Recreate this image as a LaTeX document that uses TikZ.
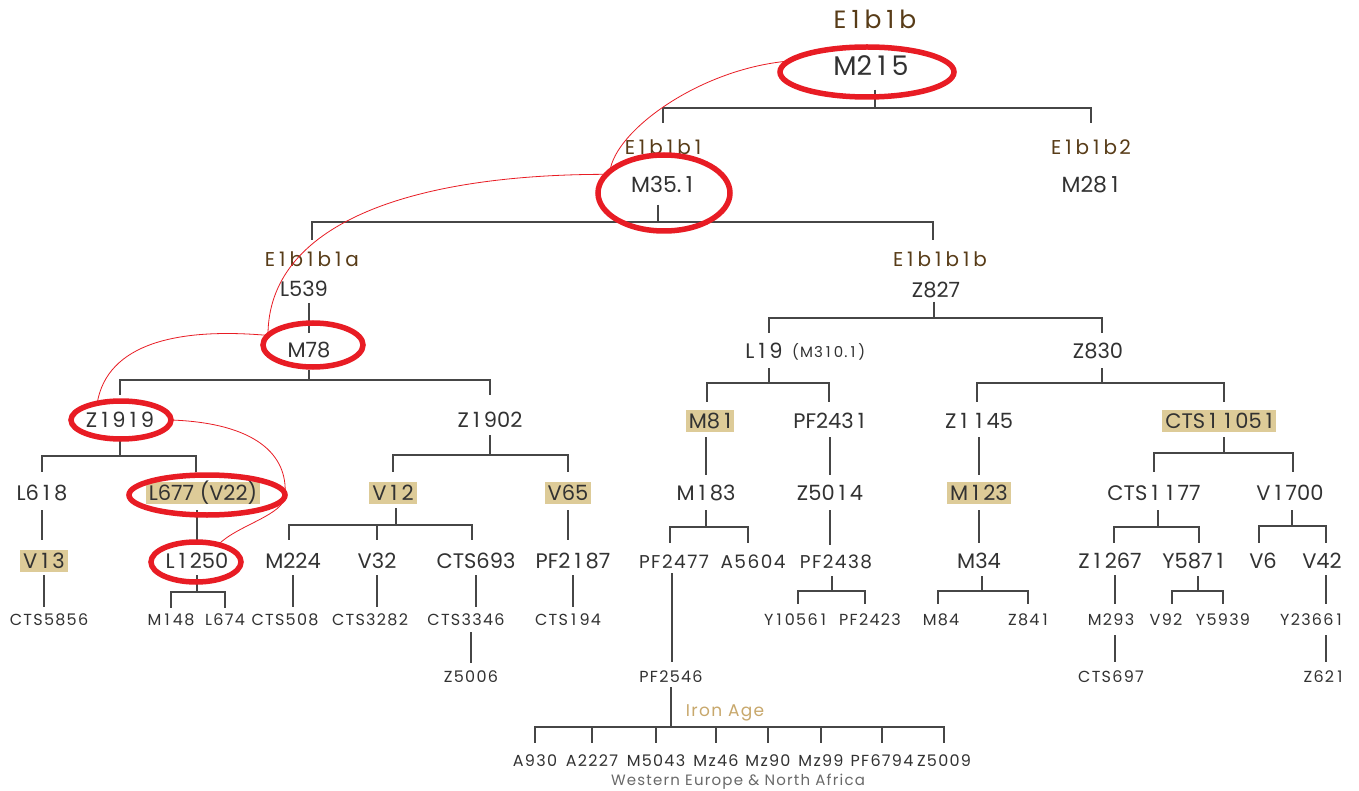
\documentclass[tikz,border=0pt]{standalone}
\usepackage{fontspec}
\setmainfont{Poppins}
\newfontfamily\labfont{Poppins}[LetterSpace=12]
\newfontfamily\smfont{Poppins}[LetterSpace=8]
\usetikzlibrary{shapes.geometric}
% the digit one is set wider, as in the reference's typeface
\XeTeXinterchartokenstate=1
\newXeTeXintercharclass\oneclass
\XeTeXcharclass`\1=\oneclass
\XeTeXinterchartoks 0 \oneclass = {\kern.2em}
\XeTeXinterchartoks \oneclass 0 = {\kern.2em}
\XeTeXinterchartoks \oneclass \oneclass = {\kern.4em}
\definecolor{txt}{RGB}{50,50,50}
\definecolor{edgec}{RGB}{70,70,70}
\definecolor{brownlab}{RGB}{88,60,24}
\definecolor{tanhl}{RGB}{221,203,152}
\definecolor{irona}{RGB}{200,168,108}
\definecolor{ringred}{RGB}{232,28,36}
\definecolor{grayt}{RGB}{105,105,105}
\begin{document}
\begin{tikzpicture}[x=1pt,y=-1pt,
  every node/.style={inner sep=0pt, outer sep=0pt, anchor=base, text=txt},
  big/.style={font=\fontsize{27}{27}\selectfont},
  mm/.style={font=\fontsize{22}{22}\selectfont},
  mid/.style={font=\fontsize{21}{21}\selectfont},
  med/.style={font=\smfont\fontsize{18.5}{18.5}\selectfont},
  sm/.style={font=\smfont\fontsize{16}{16}\selectfont},
  tiny/.style={font=\smfont\fontsize{15}{15}\selectfont},
  labA/.style={font=\labfont\fontsize{25}{25}\selectfont, text=brownlab},
  labB/.style={font=\labfont\fontsize{20}{20}\selectfont, text=brownlab},
  hl/.style={mid, fill=tanhl, inner xsep=3pt, inner ysep=3.5pt, text height=15pt, text depth=0pt},
  conn/.style={draw=edgec, line width=1.8pt},
  ring/.style={ellipse, draw=ringred, line width=5.5pt, inner sep=0pt, anchor=center},
  thinred/.style={draw=ringred, line width=0.8pt}
]
\fill[white] (0,0) rectangle (1359,791);
\useasboundingbox (0,0) rectangle (1359,791);

% ---------- nodes ----------
\node[labA] (E1b1b) at (875,29) {E1b1b};
\node[big] (M215) at (871,76) {M215};
\node[labB] (E1b1b1) at (663,155) {E1b1b1};
\node[labB] (E1b1b2) at (1091,155) {E1b1b2};
\node[mm] (M351) at (662,193) {M35.1};
\node[mm] (M281) at (1090,193) {M281};
\node[labB] (E1b1b1a) at (312,267) {E1b1b1a};
\node[labB] (E1b1b1b) at (940,267) {E1b1b1b};
\node[mid] (L539) at (304,297) {L539};
\node[mid] (M78) at (309,357) {M78};
\node[mid] (Z1919) at (120,427) {Z1919};
\node[mid] (Z1902) at (490,427) {Z1902};
\node[mid] (L618) at (42,500) {L618};
\node[hl] (L677) at (203,500) {L677 (V22)};
\node[hl] (V12) at (393,500) {V12};
\node[hl] (V65) at (568,500) {V65};
\node[hl] (V13) at (44,568) {V13};
\node[mid] (L1250) at (197,568) {L1250};
\node[mid] (M224) at (293,568) {M224};
\node[mid] (V32) at (377,568) {V32};
\node[mid] (CTS693) at (476,568) {CTS693};
\node[mid] (PF2187) at (573,568) {PF2187};
\node[sm] (CTS5856) at (49,625) {CTS5856};
\node[sm] (M148) at (171,625) {M148};
\node[sm] (L674) at (225,625) {L674};
\node[sm] (CTS508) at (285,625) {CTS508};
\node[sm] (CTS3282) at (370,625) {CTS3282};
\node[sm] (CTS3346) at (466,625) {CTS3346};
\node[sm] (CTS194) at (568,625) {CTS194};
\node[sm] (Z5006) at (471,682) {Z5006};

\node[mid] (Z827) at (936,298) {Z827};
\node[mid] (L19) at (764,358) {L19};
\node[tiny, anchor=base west] (M3101) at (792,357) {(M310.1)};
\node[mid] (Z830) at (1098,358) {Z830};
\node[hl] (M81) at (710,428) {M81};
\node[mid] (PF2431) at (829,428) {PF2431};
\node[mid] (Z1145) at (979,428) {Z1145};
\node[hl] (CTS11051) at (1219,428) {CTS11051};
\node[mid] (M183) at (706,500) {M183};
\node[mid] (Z5014) at (830,500) {Z5014};
\node[hl] (M123) at (979,500) {M123};
\node[mid] (CTS1177) at (1154,500) {CTS1177};
\node[mid] (V1700) at (1290,500) {V1700};
\node[med] (PF2477) at (674,568) {PF2477};
\node[med] (A5604) at (753,568) {A5604};
\node[med] (PF2438) at (836,568) {PF2438};
\node[mid] (M34) at (979,568) {M34};
\node[mid] (Z1267) at (1110,568) {Z1267};
\node[mid] (Y5871) at (1193,568) {Y5871};
\node[mid] (V6) at (1263,568) {V6};
\node[mid] (V42) at (1322,568) {V42};
\node[sm] (Y10561) at (795,625) {Y10561};
\node[sm] (PF2423) at (870,625) {PF2423};
\node[sm] (M84) at (941,625) {M84};
\node[sm] (Z841) at (1028,625) {Z841};
\node[sm] (M293) at (1111,625) {M293};
\node[sm] (V92) at (1166,625) {V92};
\node[sm] (Y5939) at (1223,625) {Y5939};
\node[sm] (Y23661) at (1311,625) {Y23661};
\node[sm] (PF2546) at (671,682) {PF2546};
\node[sm] (CTS697) at (1111,682) {CTS697};
\node[sm] (Z621) at (1323,682) {Z621};
\node[font=\smfont\fontsize{17}{17}\selectfont, text=irona] (IronAge) at (725,716) {Iron Age};
\node[sm] (A930) at (535,766) {A930};
\node[sm] (A2227) at (592,766) {A2227};
\node[sm] (M5043) at (656,766) {M5043};
\node[sm] (Mz46) at (716,766) {Mz46};
\node[sm] (Mz90) at (768,766) {Mz90};
\node[sm] (Mz99) at (821,766) {Mz99};
\node[sm] (PF6794) at (882,766) {PF6794};
\node[sm] (Z5009) at (944,766) {Z5009};
\node[font=\smfont\fontsize{15}{15}\selectfont, text=grayt] (WENA) at (738,785) {Western Europe \& North Africa};

% ---------- tree connectors ----------
\foreach \c in {E1b1b1,E1b1b2}
  \draw[conn] ([xshift=4pt,yshift=-14pt]M215.base) -- ++(0,18) -| ([yshift=32pt]\c.base);
\foreach \c/\dx in {E1b1b1a/0,E1b1b1b/-7}
  \draw[conn] ([xshift=-4pt,yshift=-12pt]M351.base) -- ++(0,17) -| ([xshift=\dx pt,yshift=27pt]\c.base);
\draw[conn] ([yshift=-6pt]M78.base |- L539.base) -- ([yshift=24pt]M78.base);
\foreach \c in {Z1919,Z1902}
  \draw[conn] ([yshift=-13pt]M78.base) -- ++(0,10) -| ([yshift=32pt]\c.base);
\foreach \c/\dx in {L618/0,L677/-7}
  \draw[conn] ([yshift=-13pt]Z1919.base) -- ++(0,16) -| ([xshift=\dx pt,yshift=28pt]\c.base);
\foreach \c in {V12,V65}
  \draw[conn] ([yshift=-8pt]Z1902.base) -- ++(0,20) -| ([yshift=28pt]\c.base);
\draw[conn] ([yshift=-10pt]L618.base) -- ([yshift=28pt]L618.base |- V13.base);
\draw[conn] ([yshift=-10pt]L1250.base |- L677.base) -- ([yshift=28pt]L1250.base);
\foreach \c in {M148,L674}
  \draw[conn] ([yshift=-7pt]L1250.base) -- ++(0,17) -| ([yshift=17pt]\c.base);
\foreach \c/\dx in {M224/-4,V32/0,CTS693/-4}
  \draw[conn] ([xshift=3pt,yshift=-8pt]V12.base) -- ++(0,17) -| ([xshift=\dx pt,yshift=28pt]\c.base);
\draw[conn] ([yshift=-10pt]V65.base) -- ([yshift=28pt]V65.base |- PF2187.base);
\foreach \p/\c in {V13/CTS5856,M224/CTS508,V32/CTS3282,CTS693/CTS3346,PF2187/CTS194}
  \draw[conn] ([yshift=-7pt]\p.base) -- ([yshift=18pt]\p.base |- \c.base);
\draw[conn] ([xshift=5pt,yshift=-7pt]CTS3346.base) -- ([xshift=5pt,yshift=19pt]CTS3346.base |- Z5006.base);

\foreach \c/\dx in {L19/5,Z830/4}
  \draw[conn] ([xshift=-2pt,yshift=-4pt]Z827.base) -- ++(0,16) -| ([xshift=\dx pt,yshift=25pt]\c.base);
\foreach \c/\dx in {M81/-3,PF2431/0}
  \draw[conn] ([xshift=5pt,yshift=-10pt]L19.base) -- ++(0,15) -| ([xshift=\dx pt,yshift=26pt]\c.base);
\foreach \c/\dx in {Z1145/-2,CTS11051/5}
  \draw[conn] ([xshift=4pt,yshift=-10pt]Z830.base) -- ++(0,15) -| ([xshift=\dx pt,yshift=26pt]\c.base);
\foreach \p/\c in {M81/M183,PF2431/Z5014,Z1145/M123}
  \draw[conn] ([yshift=-9pt]\c.base |- \p.base) -- ([yshift=25pt]\c.base);
\foreach \c/\dx in {CTS1177/0,V1700/3}
  \draw[conn] ([xshift=5pt,yshift=-9pt]CTS11051.base) -- ++(0,16) -| ([xshift=\dx pt,yshift=28pt]\c.base);
\foreach \c/\dx in {PF2477/-4,A5604/-5}
  \draw[conn] ([yshift=-10pt]M183.base) -- ++(0,17) -| ([xshift=\dx pt,yshift=25pt]\c.base);
\draw[conn] ([yshift=-10pt]Z5014.base) -- ([yshift=23pt]Z5014.base |- PF2438.base);
\draw[conn] ([yshift=-10pt]M34.base |- M123.base) -- ([yshift=25pt]M34.base);
\foreach \c/\dx in {Z1267/4,Y5871/6}
  \draw[conn] ([xshift=4pt,yshift=-10pt]CTS1177.base) -- ++(0,17) -| ([xshift=\dx pt,yshift=25pt]\c.base);
\foreach \c/\dx in {V6/-4,V42/4}
  \draw[conn] ([xshift=2pt,yshift=-10pt]V1700.base) -- ++(0,16) -| ([xshift=\dx pt,yshift=25pt]\c.base);
\draw[conn] ([xshift=-2pt,yshift=-5pt]PF2477.base) -- ([xshift=-2pt,yshift=20pt]PF2477.base |- PF2546.base);
\foreach \c/\dx in {Y10561/3,PF2423/-5}
  \draw[conn] ([xshift=-4pt,yshift=-8pt]PF2438.base) -- ++(0,15) -| ([xshift=\dx pt,yshift=21pt]\c.base);
\foreach \c/\dx in {M84/-3,Z841/0}
  \draw[conn] ([xshift=3pt,yshift=-8pt]M34.base) -- ++(0,15) -| ([xshift=\dx pt,yshift=21pt]\c.base);
\draw[conn] ([xshift=5pt,yshift=-7pt]Z1267.base) -- ([xshift=5pt,yshift=21pt]Z1267.base |- M293.base);
\foreach \c/\dx in {V92/6,Y5939/0}
  \draw[conn] ([xshift=5pt,yshift=-8pt]Y5871.base) -- ++(0,15) -| ([xshift=\dx pt,yshift=21pt]\c.base);
\draw[conn] ([xshift=4pt,yshift=-7pt]V42.base) -- ([xshift=4pt,yshift=21pt]V42.base |- Y23661.base);
\draw[conn] ([xshift=4pt,yshift=-10pt]M293.base) -- ([xshift=4pt,yshift=20pt]M293.base |- CTS697.base);
\draw[conn] ([xshift=3pt,yshift=-10pt]Z621.base |- Y23661.base) -- ([xshift=3pt,yshift=20pt]Z621.base);
\foreach \c in {A930,A2227,M5043,Mz46,Mz90,Mz99,PF6794,Z5009}
  \draw[conn] ([yshift=-5pt]PF2546.base) -- ++(0,40) -| ([yshift=23pt]\c.base);

% ---------- red rings ----------
\node[ring, minimum width=174pt, minimum height=50pt] (eM215) at ([xshift=-4pt,yshift=4pt]M215.base) {};
\node[ring, minimum width=132pt, minimum height=76pt] (eM351) at ([xshift=2pt]M351.base) {};
\node[ring, minimum width=100pt, minimum height=44pt] (eM78) at ([xshift=4pt,yshift=12pt]M78.base) {};
\node[ring, minimum width=100pt, minimum height=38pt] (eZ1919) at ([xshift=1pt,yshift=7pt]Z1919.base) {};
\node[ring, minimum width=156pt, minimum height=40pt] (eL677) at ([xshift=4pt,yshift=5pt]L677.base) {};
\node[ring, minimum width=90pt, minimum height=40pt] (eL1250) at ([xshift=-1pt,yshift=6pt]L1250.base) {};

% ---------- thin red links ----------
\draw[thinred] (eM215.172) .. controls +(-90,8) and +(5,-40) .. (eM351.158);
\draw[thinred] (eM351.162) .. controls +(-200,0) and +(0,-110) .. (eM78.168);
\draw[thinred] (eM78.168) .. controls +(-90,-8) and +(10,-60) .. (eZ1919.145);
\draw[thinred] (eZ1919.east) .. controls +(85,3) and +(3,-40) .. (eL677.east)
  .. controls +(0,20) and +(20,-20) .. (eL1250.38);
\end{tikzpicture}
\end{document}
